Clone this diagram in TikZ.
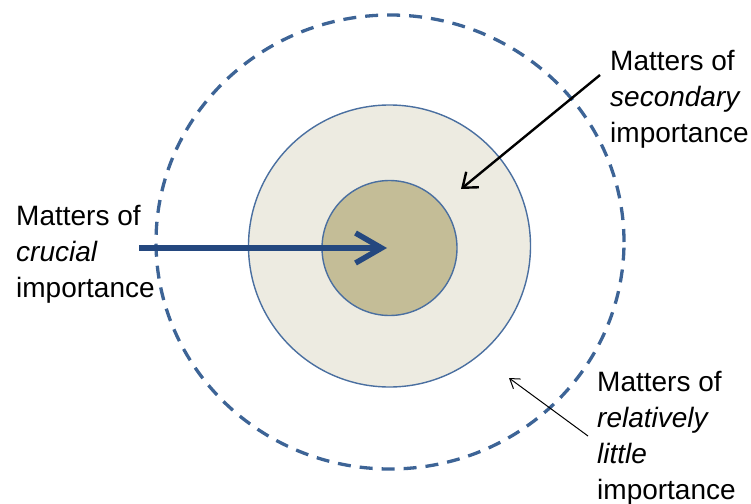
\documentclass[tikz,border=0pt]{standalone}
\usepackage{fontspec}
\setmainfont{Liberation Sans}
\usetikzlibrary{arrows.meta,shapes.geometric}
\definecolor{dashblue}{HTML}{3D6496}
\definecolor{ringblue}{HTML}{4A6FA0}
\definecolor{arrowblue}{HTML}{24487F}
\definecolor{midfill}{HTML}{EDEBE1}
\definecolor{innerfill}{HTML}{C4BD97}
\begin{document}
\begin{tikzpicture}[x=1pt,y=-1pt,
  lbl/.style={anchor=north west, inner sep=0pt, align=left, font=\fontsize{28}{36}\selectfont},
  ring/.style={circle, draw=ringblue, line width=1.4pt, inner sep=0pt}]
\useasboundingbox (0,0) rectangle (751,503);
\node[ellipse, draw=dashblue, line width=3.3pt, dash pattern=on 13pt off 9pt,
      minimum width=468pt, minimum height=454pt, inner sep=0pt] (outer) at (390,242) {};
\node[ring, fill=midfill, minimum size=282pt] (mid) at (389.5,246) {};
\node[ring, fill=innerfill, minimum size=135pt] (inner) at (389.5,248) {};

\node[lbl] (crucial) at (16,205.5) {Matters of\\\textit{crucial}\\importance};
\node[lbl] (secondary) at (610,50.5) {Matters of\\\textit{secondary}\\importance};
\node[lbl] (little) at (597,371.5) {Matters of\\\textit{relatively}\\\textit{little}\\importance};

\coordinate (a1s) at (139,248);
\coordinate (a1e) at (387,248);
\coordinate (a2s) at (600,75);
\coordinate (a2e) at (461,189);
\coordinate (a3s) at (588,436);
\coordinate (a3e) at (509,378);

\draw[arrowblue, line width=5.5pt, -{Straight Barb[length=26pt,width=30pt]}] (a1s) -- (a1e);
\draw[black, line width=2.4pt, -{Straight Barb[length=13pt,width=20pt]}] (a2s) -- (a2e);
\draw[black, line width=1pt, -{Straight Barb[length=9pt,width=12pt]}] (a3s) -- (a3e);
\end{tikzpicture}
\end{document}
